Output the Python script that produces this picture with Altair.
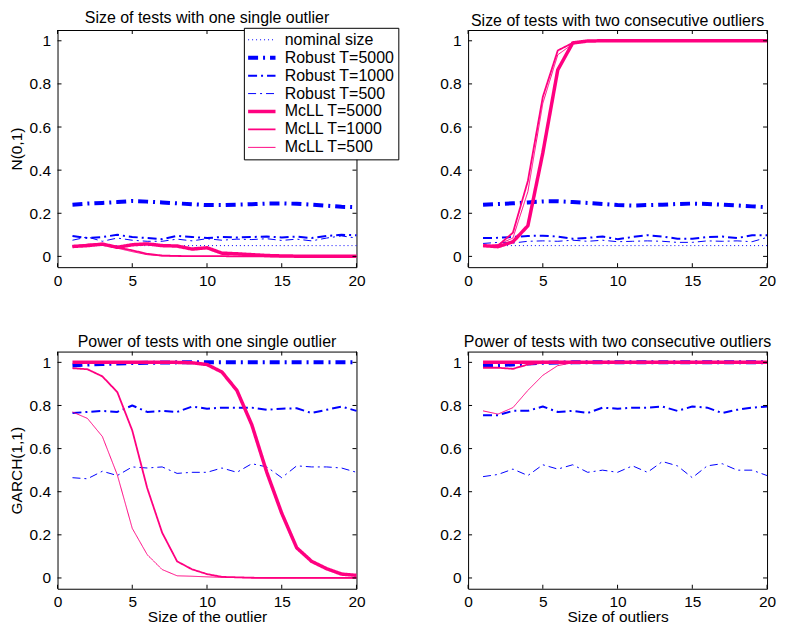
import altair as alt
import pandas as pd

X = list(range(1, 21))
X_TICKS = [0, 5, 10, 15, 20]
Y_TICKS = [0, 0.2, 0.4, 0.6, 0.8, 1.0]

SERIES = ["nominal size", "Robust T=5000", "Robust T=1000", "Robust T=500",
          "McLL T=5000", "McLL T=1000", "McLL T=500"]
COLORS = ["#0000ff", "#0000ff", "#0000ff", "#0000ff", "#ff0080", "#ff0080", "#ff0080"]
DASHES = [[1, 3], [10, 5, 2, 5], [9, 4, 2, 4], [8, 4, 2, 4], [1, 0], [1, 0], [1, 0]]
WIDTHS = [1, 4, 2, 1, 3.5, 1.8, 1]

TITLES = ["Size of tests with one single outlier",
          "Size of tests with two consecutive outliers",
          "Power of tests with one single outlier",
          "Power of tests with two consecutive outliers"]

# Panel A: N(0,1), one single outlier (size)
A_nom = [0.05, 0.05, 0.05, 0.05, 0.05, 0.05, 0.05, 0.05, 0.05, 0.05,
         0.05, 0.05, 0.05, 0.05, 0.05, 0.05, 0.05, 0.05, 0.05, 0.05]
A_r5000 = [0.240, 0.245, 0.248, 0.252, 0.257, 0.254, 0.250, 0.246, 0.242, 0.238,
           0.238, 0.240, 0.242, 0.245, 0.246, 0.244, 0.240, 0.235, 0.230, 0.228]
A_r1000 = [0.095, 0.085, 0.090, 0.100, 0.090, 0.085, 0.080, 0.095, 0.090, 0.085,
           0.090, 0.088, 0.090, 0.092, 0.088, 0.092, 0.085, 0.095, 0.100, 0.098]
A_r500 = [0.075, 0.090, 0.070, 0.085, 0.075, 0.070, 0.070, 0.080, 0.072, 0.082,
          0.075, 0.080, 0.078, 0.082, 0.074, 0.080, 0.072, 0.085, 0.095, 0.085]
A_m5000 = [0.046, 0.050, 0.057, 0.042, 0.054, 0.058, 0.050, 0.048, 0.034, 0.040,
           0.015, 0.012, 0.008, 0.004, 0.002, 0.001, 0.001, 0.001, 0.001, 0.001]
A_m1000 = [0.046, 0.055, 0.058, 0.042, 0.028, 0.012, 0.004, 0.002, 0.001, 0.001,
           0.001, 0.000, 0.000, 0.000, 0.000, 0.000, 0.000, 0.000, 0.000, 0.000]
A_m500 = [0.044, 0.052, 0.055, 0.038, 0.022, 0.008, 0.002, 0.001, 0.000, 0.000,
          0.000, 0.000, 0.000, 0.000, 0.000, 0.000, 0.000, 0.000, 0.000, 0.000]

# Panel B: N(0,1), two consecutive outliers (size)
B_nom = A_nom
B_r5000 = [0.240, 0.243, 0.246, 0.250, 0.255, 0.256, 0.252, 0.248, 0.243, 0.238,
           0.236, 0.238, 0.240, 0.243, 0.245, 0.243, 0.240, 0.236, 0.232, 0.228]
B_r1000 = [0.085, 0.086, 0.090, 0.095, 0.096, 0.092, 0.082, 0.086, 0.092, 0.080,
           0.090, 0.098, 0.092, 0.082, 0.082, 0.090, 0.092, 0.085, 0.098, 0.098]
B_r500 = [0.060, 0.065, 0.062, 0.070, 0.072, 0.070, 0.075, 0.070, 0.075, 0.068,
          0.070, 0.072, 0.070, 0.065, 0.065, 0.072, 0.070, 0.072, 0.068, 0.088]
B_m5000 = [0.050, 0.045, 0.068, 0.142, 0.480, 0.865, 0.990, 0.999, 1.0, 1.0,
           1.0, 1.0, 1.0, 1.0, 1.0, 1.0, 1.0, 1.0, 1.0, 1.0]
B_m1000 = [0.048, 0.050, 0.110, 0.350, 0.740, 0.955, 0.990, 0.999, 1.0, 1.0,
           1.0, 1.0, 1.0, 1.0, 1.0, 1.0, 1.0, 1.0, 1.0, 1.0]
B_m500 = [0.046, 0.055, 0.085, 0.300, 0.710, 0.935, 0.985, 0.999, 1.0, 1.0,
          1.0, 1.0, 1.0, 1.0, 1.0, 1.0, 1.0, 1.0, 1.0, 1.0]

# Panel C: GARCH(1,1), one single outlier (power)
C_r5000 = [0.985, 0.990, 0.992, 0.995, 0.997, 0.998, 0.999, 1.0, 1.0, 1.0,
           1.0, 1.0, 1.0, 1.0, 1.0, 1.0, 1.0, 1.0, 1.0, 1.0]
C_r1000 = [0.765, 0.770, 0.775, 0.770, 0.800, 0.770, 0.775, 0.770, 0.795, 0.785,
           0.790, 0.790, 0.790, 0.780, 0.785, 0.787, 0.765, 0.780, 0.795, 0.775]
C_r500 = [0.465, 0.460, 0.495, 0.475, 0.515, 0.510, 0.515, 0.485, 0.490, 0.490,
          0.510, 0.490, 0.530, 0.515, 0.465, 0.520, 0.515, 0.515, 0.510, 0.490]
C_m5000 = [1.0, 1.0, 1.0, 1.0, 1.0, 1.0, 1.0, 1.0, 0.998, 0.990,
           0.955, 0.870, 0.710, 0.490, 0.300, 0.140, 0.077, 0.043, 0.018, 0.012]
C_m1000 = [0.973, 0.968, 0.935, 0.862, 0.684, 0.417, 0.210, 0.077, 0.040, 0.018,
           0.005, 0.003, 0.001, 0.000, 0.000, 0.000, 0.000, 0.000, 0.000, 0.000]
C_m500 = [0.770, 0.740, 0.656, 0.478, 0.230, 0.108, 0.039, 0.010, 0.008, 0.005,
          0.003, 0.002, 0.001, 0.000, 0.000, 0.000, 0.000, 0.000, 0.000, 0.000]

# Panel D: GARCH(1,1), two consecutive outliers (power)
D_r5000 = [0.985, 0.988, 0.990, 0.995, 0.998, 0.999, 1.0, 1.0, 1.0, 1.0,
           1.0, 1.0, 1.0, 1.0, 1.0, 1.0, 1.0, 1.0, 1.0, 1.0]
D_r1000 = [0.755, 0.755, 0.775, 0.775, 0.795, 0.770, 0.775, 0.765, 0.790, 0.785,
           0.790, 0.790, 0.795, 0.775, 0.795, 0.790, 0.765, 0.780, 0.790, 0.795]
D_r500 = [0.470, 0.480, 0.505, 0.475, 0.525, 0.505, 0.525, 0.490, 0.500, 0.490,
          0.520, 0.490, 0.540, 0.520, 0.465, 0.520, 0.530, 0.500, 0.500, 0.475]
D_m5000 = [1.0, 1.0, 1.0, 1.0, 1.0, 1.0, 1.0, 1.0, 1.0, 1.0,
           1.0, 1.0, 1.0, 1.0, 1.0, 1.0, 1.0, 1.0, 1.0, 1.0]
D_m1000 = [0.975, 0.975, 0.970, 0.990, 0.998, 1.0, 1.0, 1.0, 1.0, 1.0,
           1.0, 1.0, 1.0, 1.0, 1.0, 1.0, 1.0, 1.0, 1.0, 1.0]
D_m500 = [0.775, 0.760, 0.790, 0.870, 0.940, 0.985, 0.998, 1.0, 1.0, 1.0,
          1.0, 1.0, 1.0, 1.0, 1.0, 1.0, 1.0, 1.0, 1.0, 1.0]

W, H = 300, 238
FONT = "Liberation Sans"

# legend symbol stroke widths, looked up by label
_sw = "[" + ",".join(str(w) for w in WIDTHS) + "]"
_sn = "[" + ",".join("'" + s + "'" for s in SERIES) + "]"
SYM_WIDTH_EXPR = ("isObject(datum) && indexof(" + _sn + ", datum.value) >= 0 ? "
                  + _sw + "[indexof(" + _sn + ", datum.value)] : 4")


def to_df(series_map):
    rows = []
    for name, vals in series_map.items():
        for x, v in zip(X, vals):
            rows.append({"x": x, "value": v, "series": name})
    return pd.DataFrame(rows)


xscale = alt.Scale(domain=[0, 20], nice=False, zero=False)
yscale = alt.Scale(domain=[-0.05, 1.05], nice=False, zero=False)


def panel(df, title, ytitle=None, xtitle=None, show_legend=False):
    if show_legend:
        leg = alt.Legend(title=None, orient="none", legendX=187, legendY=-2.2,
                         symbolType="stroke", symbolSize=756, padding=4,
                         rowPadding=2, symbolOffset=6, labelOffset=15,
                         labelFont=FONT, labelFontSize=16, labelLimit=300,
                         strokeColor="black", fillColor="white",
                         symbolStrokeWidth=alt.ExprRef(expr=SYM_WIDTH_EXPR))
    else:
        leg = None
    yax = dict(values=Y_TICKS, format="~g", ticks=False, domain=False, grid=False,
               labelPadding=7, labelFlush=False)
    if ytitle:
        yax.update(title=ytitle, titleX=-36, titleY=H / 2, titleBaseline="alphabetic",
                   titleAngle=270, titleAlign="center")
    else:
        yax.update(title=None)
    xax = dict(values=X_TICKS, ticks=False, domain=False, grid=False,
               labelPadding=6, labelFlush=False)
    if xtitle:
        xax.update(title=xtitle, titleY=33, titleBaseline="alphabetic")
    else:
        xax.update(title=None)

    xenc = alt.X("x:Q", scale=xscale, axis=alt.Axis(**xax))
    yenc = alt.Y("value:Q", scale=yscale, axis=alt.Axis(**yax))
    cenc = alt.Color("series:N", scale=alt.Scale(domain=SERIES, range=COLORS), legend=leg)
    denc = alt.StrokeDash("series:N", scale=alt.Scale(domain=SERIES, range=DASHES), legend=leg)

    present = [s for s in SERIES if s in set(df["series"])]
    # blue series first, pink on top
    layers = []
    for s in present:
        w = WIDTHS[SERIES.index(s)]
        layers.append(
            alt.Chart(df).transform_filter(alt.datum.series == s)
            .mark_line(strokeCap="butt", strokeJoin="round", strokeWidth=w)
            .encode(x=xenc, y=yenc, color=cenc, strokeDash=denc)
        )

    xt = pd.DataFrame({"x": X_TICKS})
    yt = pd.DataFrame({"value": Y_TICKS})
    tb = alt.Chart(xt).mark_rule(color="black", strokeWidth=1).encode(
        x=xenc, y=alt.value(H), y2=alt.value(H - 4))
    tt = alt.Chart(xt).mark_rule(color="black", strokeWidth=1).encode(
        x=xenc, y=alt.value(0), y2=alt.value(4))
    tl = alt.Chart(yt).mark_rule(color="black", strokeWidth=1).encode(
        y=yenc, x=alt.value(0), x2=alt.value(4))
    tr = alt.Chart(yt).mark_rule(color="black", strokeWidth=1).encode(
        y=yenc, x=alt.value(W), x2=alt.value(W - 4))

    return alt.layer(*layers, tb, tt, tl, tr).properties(
        width=W, height=H,
        title=alt.TitleParams(title, anchor="middle", frame="group", offset=-12,
                              baseline="alphabetic", font=FONT, fontSize=16,
                              fontWeight="normal", color="black"),
    )


dfA = to_df(dict(zip(SERIES, [A_nom, A_r5000, A_r1000, A_r500, A_m5000, A_m1000, A_m500])))
dfB = to_df(dict(zip(SERIES, [B_nom, B_r5000, B_r1000, B_r500, B_m5000, B_m1000, B_m500])))
dfC = to_df(dict(zip(SERIES[1:], [C_r5000, C_r1000, C_r500, C_m5000, C_m1000, C_m500])))
dfD = to_df(dict(zip(SERIES[1:], [D_r5000, D_r1000, D_r500, D_m5000, D_m1000, D_m500])))

pA = panel(dfA, TITLES[0], ytitle="N(0,1)", show_legend=True)
pB = panel(dfB, TITLES[1])
pC = panel(dfC, TITLES[2], ytitle="GARCH(1,1)", xtitle="Size of the outlier")
pD = panel(dfD, TITLES[3], xtitle="Size of outliers")

chart = alt.concat(pA, pB, pC, pD, columns=2,
                   spacing={"row": 84.7, "column": 112}, bounds="flush").resolve_scale(
    color="independent", strokeDash="independent"
).resolve_legend(
    color="independent", strokeDash="independent"
).properties(
    padding={"left": 0.7, "top": 0, "right": 0, "bottom": -4},
    background="white",
).configure_view(
    stroke="black", strokeWidth=1
).configure_axis(
    labelFont=FONT, labelFontSize=15.5, labelColor="black",
    titleFont=FONT, titleFontSize=15.5, titleFontWeight="normal", titleColor="black",
)

chart.save("out.html", embed_options={"renderer": "svg", "actions": False})
